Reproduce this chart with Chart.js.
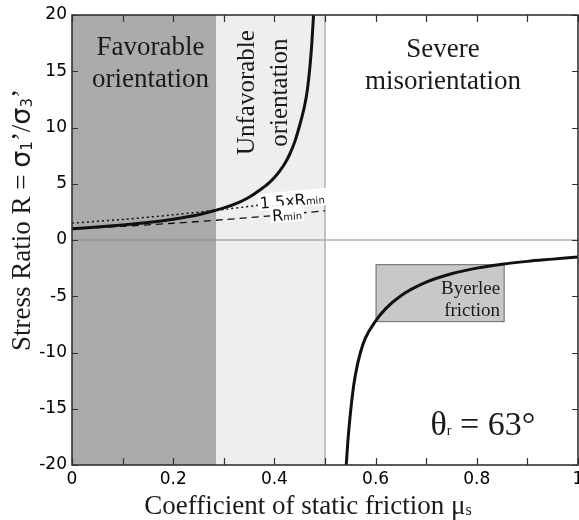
<!DOCTYPE html>
<html>
<head>
<meta charset="utf-8">
<script src="https://cdn.jsdelivr.net/npm/chart.js@4.4.1/dist/chart.umd.min.js"></script>
<style>
  html, body { margin: 0; padding: 0; background: #fff; }
  #wrap { width: 579px; height: 520px; }
</style>
</head>
<body>
<div id="wrap"><canvas id="c" width="579" height="520"></canvas></div>
<script>
// ---- data ----
const muUpper = [0, 0.05, 0.1, 0.15, 0.2, 0.25, 0.28, 0.3, 0.33, 0.35, 0.37, 0.39, 0.4, 0.41, 0.42, 0.43, 0.44, 0.45, 0.46, 0.465, 0.47, 0.474, 0.478];
const rUpper  = [1.0, 1.15, 1.33, 1.55, 1.85, 2.25, 2.6, 2.85, 3.35, 3.8, 4.4, 5.1, 5.55, 6.1, 6.75, 7.6, 8.7, 10.2, 12.0, 13.3, 15.3, 17.5, 20.5];
const muLower = [0.542, 0.545, 0.55, 0.555, 0.56, 0.57, 0.58, 0.6, 0.62, 0.65, 0.7, 0.75, 0.8, 0.85, 0.9, 0.95, 1.0];
const rLower  = [-20, -18, -15.5, -13.5, -12, -10, -8.7, -7.2, -6.1, -4.95, -3.75, -3.0, -2.5, -2.15, -1.9, -1.7, -1.5];
const muRmin  = [0, 0.1, 0.2, 0.3, 0.4, 0.5];
const rMin    = [1.0, 1.22, 1.49, 1.81, 2.18, 2.6];
const r15Min  = [1.5, 1.83, 2.24, 2.72, 3.27, 3.95];
const favorableRange   = [0, 0.285];
const unfavorableRange = [0.285, 0.5];
const byerleeMu = [0.6, 0.855];
const byerleeR  = [-2.15, -7.3];
const xTickLabels = ['0', '0.2', '0.4', '0.6', '0.8', '1'];
const yTickLabels = ['-20', '-15', '-10', '-5', '0', '5', '10', '15', '20'];
const thetaLabel = '63°';

const pts = (xs, ys) => xs.map((x, i) => ({x: x, y: ys[i]}));
const SERIF = '"Liberation Serif", "Times New Roman", serif';
const SANS = '"DejaVu Sans", sans-serif';

function drawRich(ctx, parts, x, y, align) {
  let total = 0;
  parts.forEach(p => { ctx.font = p.font; p.w = ctx.measureText(p.t).width; total += p.w; });
  let cx = align === 'center' ? x - total / 2 : (align === 'right' ? x - total : x);
  ctx.textAlign = 'left';
  parts.forEach(p => { ctx.font = p.font; ctx.fillText(p.t, cx, y + (p.dy || 0)); cx += p.w; });
  return total;
}

const decor = {
  id: 'decor',
  beforeDatasetsDraw(chart) {
    const {ctx, chartArea: a, scales: {x, y}} = chart;
    ctx.save();
    ctx.fillStyle = '#ababab';
    let x0 = x.getPixelForValue(favorableRange[0]), x1 = x.getPixelForValue(favorableRange[1]);
    ctx.fillRect(x0, a.top, x1 - x0, a.bottom - a.top);
    ctx.fillStyle = '#eeeeee';
    x0 = x.getPixelForValue(unfavorableRange[0]); x1 = x.getPixelForValue(unfavorableRange[1]);
    ctx.fillRect(x0, a.top, x1 - x0, a.bottom - a.top);
    ctx.strokeStyle = '#8a8a8a'; ctx.lineWidth = 1.2;
    const y0 = y.getPixelForValue(0);
    ctx.beginPath(); ctx.moveTo(a.left, y0); ctx.lineTo(a.right, y0); ctx.stroke();
    ctx.strokeStyle = '#a0a0a0';
    ctx.beginPath(); ctx.moveTo(x1, a.top); ctx.lineTo(x1, a.bottom); ctx.stroke();
    const bx0 = x.getPixelForValue(byerleeMu[0]), bx1 = x.getPixelForValue(byerleeMu[1]);
    const by0 = y.getPixelForValue(byerleeR[0]), by1 = y.getPixelForValue(byerleeR[1]);
    ctx.fillStyle = '#c8c8c8';
    ctx.fillRect(bx0, by0, bx1 - bx0, by1 - by0);
    ctx.strokeStyle = '#6e6e6e'; ctx.lineWidth = 1;
    ctx.strokeRect(bx0 + 0.5, by0 + 0.5, bx1 - bx0 - 1, by1 - by0 - 1);
    ctx.restore();
  },
  afterDatasetsDraw(chart) {
    const {ctx, chartArea: a, scales: {x, y}} = chart;
    ctx.save();
    ctx.fillStyle = '#1a1a1a';
    ctx.textBaseline = 'middle';
    ctx.textAlign = 'center';
    ctx.font = '27px ' + SERIF;
    ctx.fillText('Favorable', x.getPixelForValue(0.155), y.getPixelForValue(17.05));
    ctx.fillText('orientation', x.getPixelForValue(0.155), y.getPixelForValue(14.2));
    ctx.fillText('Severe', x.getPixelForValue(0.733), y.getPixelForValue(16.9));
    ctx.fillText('misorientation', x.getPixelForValue(0.733), y.getPixelForValue(14.05));
    ctx.font = '25px ' + SERIF;
    [['Unfavorable', 0.346], ['orientation', 0.411]].forEach(([t, m]) => {
      ctx.save();
      ctx.translate(x.getPixelForValue(m), y.getPixelForValue(13.1));
      ctx.rotate(-Math.PI / 2);
      ctx.fillText(t, 0, 0);
      ctx.restore();
    });
    ctx.font = '19px ' + SERIF;
    ctx.textAlign = 'right';
    ctx.fillText('Byerlee', x.getPixelForValue(0.846), y.getPixelForValue(-4.36));
    ctx.fillText('friction', x.getPixelForValue(0.846), y.getPixelForValue(-6.3));
    ctx.textBaseline = 'alphabetic';
    const ty = y.getPixelForValue(-16.3) + 12;
    drawRich(ctx, [
      {t: 'θ', font: '34px ' + SERIF},
      {t: 'r', font: '14px ' + SERIF},
      {t: ' = ' + thetaLabel, font: '34px ' + SERIF}
    ], x.getPixelForValue(0.812), ty, 'center');

    const lab = (mu, r, ang, big, small) => {
      ctx.save();
      ctx.translate(x.getPixelForValue(mu), y.getPixelForValue(r));
      ctx.rotate(ang * Math.PI / 180);
      ctx.font = '16px ' + SANS; const w1 = ctx.measureText(big).width;
      ctx.font = '10px ' + SANS; const w2 = ctx.measureText(small).width;
      const w = w1 + w2;
      ctx.fillStyle = '#fff';
      ctx.fillRect(-w / 2 - 2, -9, w + 4, 17);
      ctx.fillStyle = '#111';
      ctx.textBaseline = 'alphabetic';
      ctx.textAlign = 'left';
      ctx.font = '16px ' + SANS; ctx.fillText(big, -w / 2, 6);
      ctx.font = '10px ' + SANS; ctx.fillText(small, -w / 2 + w1, 6);
      ctx.restore();
    };
    lab(0.435, 3.55, -5, '1.5xR', 'min');
    lab(0.425, 2.3, -4, 'R', 'min');
    ctx.restore();
  },
  afterDraw(chart) {
    const {ctx, chartArea: a, scales: {x, y}} = chart;
    ctx.save();
    ctx.strokeStyle = '#333'; ctx.lineWidth = 1.6;
    ctx.strokeRect(a.left, a.top, a.right - a.left, a.bottom - a.top);
    ctx.lineWidth = 1.2; ctx.strokeStyle = '#333';
    const tl = 7;
    x.ticks.forEach(t => {
      const px = Math.round(x.getPixelForValue(t.value)) + 0.5;
      ctx.beginPath();
      ctx.moveTo(px, a.bottom); ctx.lineTo(px, a.bottom - tl);
      ctx.moveTo(px, a.top); ctx.lineTo(px, a.top + tl);
      ctx.stroke();
    });
    y.ticks.forEach(t => {
      const py = Math.round(y.getPixelForValue(t.value)) + 0.5;
      ctx.beginPath();
      ctx.moveTo(a.left, py); ctx.lineTo(a.left + 6, py);
      ctx.moveTo(a.right, py); ctx.lineTo(a.right - 6, py);
      ctx.stroke();
    });
    ctx.fillStyle = '#1a1a1a';
    ctx.textBaseline = 'middle';
    drawRich(ctx, [
      {t: 'Coefficient of static friction μ', font: '27px ' + SERIF},
      {t: 's', font: '16px ' + SERIF, dy: 4}
    ], (a.left + a.right) / 2 - 17, 507, 'center');
    ctx.save();
    ctx.translate(23, 220);
    ctx.rotate(-Math.PI / 2);
    drawRich(ctx, [
      {t: 'Stress Ratio R = ', font: '27px ' + SERIF},
      {t: 'σ', font: '27px ' + SANS},
      {t: '1', font: '15px ' + SANS, dy: 5},
      {t: '’/', font: '27px ' + SERIF},
      {t: 'σ', font: '27px ' + SANS},
      {t: '3', font: '15px ' + SANS, dy: 5},
      {t: '’', font: '27px ' + SERIF}
    ], 0, 0, 'center');
    ctx.restore();
    ctx.restore();
  }
};

new Chart(document.getElementById('c'), {
  type: 'scatter',
  data: {
    datasets: [
      {data: pts(muRmin, r15Min), showLine: true, borderColor: '#111', borderWidth: 1.5, borderDash: [2, 3], pointRadius: 0, tension: 0.3},
      {data: pts(muRmin, rMin), showLine: true, borderColor: '#111', borderWidth: 1.3, borderDash: [7, 5], pointRadius: 0, tension: 0.3},
      {data: pts(muUpper, rUpper), showLine: true, borderColor: '#111', borderWidth: 3, pointRadius: 0, cubicInterpolationMode: 'monotone'},
      {data: pts(muLower, rLower), showLine: true, borderColor: '#111', borderWidth: 3, pointRadius: 0, cubicInterpolationMode: 'monotone'}
    ]
  },
  options: {
    responsive: false,
    animation: false,
    events: [],
    layout: {padding: {top: 15, right: 1, left: 0, bottom: 0}},
    plugins: {legend: {display: false}, tooltip: {enabled: false}},
    scales: {
      x: {
        type: 'linear', min: 0, max: 1,
        grid: {display: false, drawTicks: false},
        border: {display: false},
        ticks: {
          stepSize: 0.1, autoSkip: false, maxRotation: 0, padding: 4,
          color: '#000', font: {family: SANS, size: 17},
          callback: function (v) {
            const s = String(Math.round(v * 10) / 10);
            return xTickLabels.includes(s) ? s : '';
          }
        },
        afterFit(s) { s.height = 55; s.paddingLeft = 0; s.paddingRight = 0; }
      },
      y: {
        type: 'linear', min: -20, max: 20,
        grid: {display: false, drawTicks: false},
        border: {display: false},
        ticks: {
          stepSize: 5, padding: 5, color: '#000', font: {family: SANS, size: 17},
          callback: function (v) {
            const s = String(v);
            return yTickLabels.includes(s) ? s : '';
          }
        },
        afterFit(s) { s.width = 72; s.paddingTop = 0; s.paddingBottom = 0; }
      }
    }
  },
  plugins: [decor]
});
</script>
</body>
</html>
